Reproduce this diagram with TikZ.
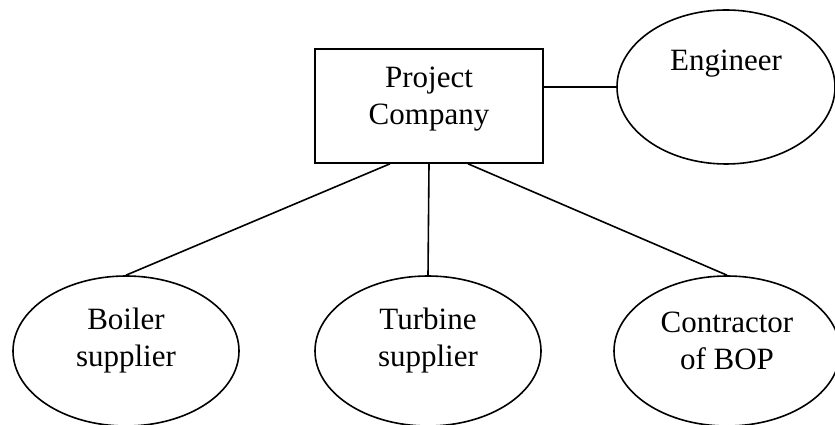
\documentclass[tikz,border=0pt]{standalone}
\usepackage{fontspec}
\setmainfont{Liberation Serif}
\usepackage{tikz}
\usetikzlibrary{shapes.geometric}

\tikzset{
	party/.style={draw, ellipse, line width=1.6pt, minimum width=226pt, minimum height=150pt},
	firm/.style={draw, rectangle, line width=1.6pt, minimum width=228pt, minimum height=114pt},
	tag/.style={align=center, font=\fontsize{31}{37}\selectfont},
	link/.style={line width=1.6pt}
}

\begin{document}
\begin{tikzpicture}[x=1pt, y=1pt]
				\useasboundingbox (0,0) rectangle (835,425);
				\node (pc) [firm, label={[tag, yshift=7pt]center:Project\\Company}] at (429,319) {};
				\node (eng) [party, minimum width=218pt, minimum height=154pt, label={[tag, yshift=23pt]center:Engineer}] at (726,338) {};
				\node (boiler) [party, label={[tag, yshift=10pt]center:Boiler\\supplier}] at (126,74) {};
				\node (turbine) [party, label={[tag, yshift=10pt]center:Turbine\\supplier}] at (428,74) {};
				\node (bop) [party, label={[tag, yshift=10pt]center:Contractor\\of BOP}] at (727,74) {};
				
				
				% Links
				\draw[link] (pc.east |- eng.west) -- (eng.west);
				\draw[link] (pc.236) -- (boiler.north);
				\draw[link] (pc.south) -- (turbine.north);
				\draw[link] (pc.304) -- (bop.north);
				
			\end{tikzpicture}
\end{document}
